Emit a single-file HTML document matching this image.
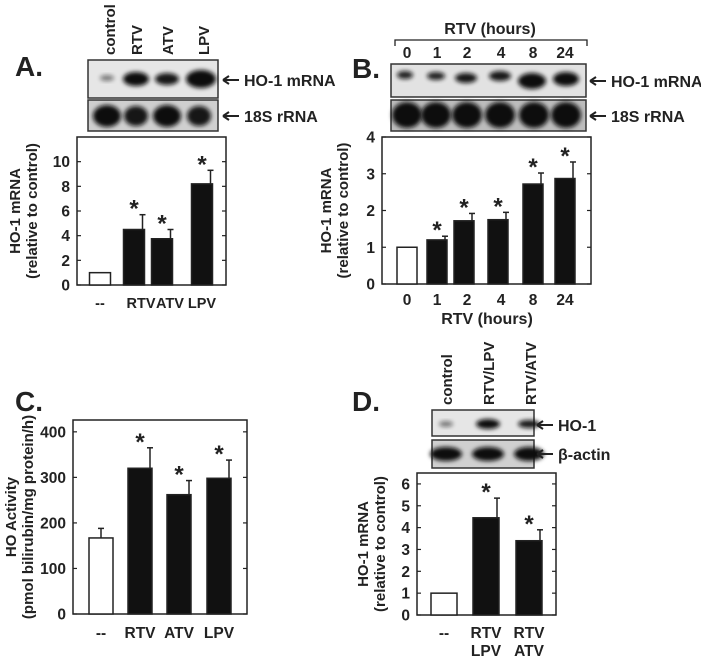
<!DOCTYPE html>
<html><head><meta charset="utf-8">
<style>
html,body{margin:0;padding:0;background:#fff;}
svg{display:block;font-family:"Liberation Sans",Arial,sans-serif;font-weight:bold;}
</style></head>
<body>
<svg id="fig" width="701" height="659" viewBox="0 0 701 659" xmlns="http://www.w3.org/2000/svg">
<defs>
<filter id="blur2" x="-50%" y="-50%" width="200%" height="200%"><feGaussianBlur stdDeviation="2"/></filter>
</defs>
</svg>
<script>
// ---- Panel A data ----
const aCategories = ["--","RTV","ATV","LPV"];
const aValues = [1, 4.5, 3.75, 8.2];
const aErrors = [0, 1.2, 0.75, 1.1];
const aTicks = [0,2,4,6,8,10];
// ---- Panel B data ----
const bCategories = ["0","1","2","4","8","24"];
const bValues = [1, 1.2, 1.72, 1.75, 2.72, 2.87];
const bErrors = [0, 0.1, 0.2, 0.2, 0.3, 0.45];
const bTicks = [0,1,2,3,4];
// ---- Panel C data ----
const cCategories = ["--","RTV","ATV","LPV"];
const cValues = [167, 320, 262, 298];
const cErrors = [21, 45, 31, 40];
const cTicks = [0,100,200,300,400];
// ---- Panel D data ----
const dCategories = [["--"],["RTV","LPV"],["RTV","ATV"]];
const dValues = [1, 4.45, 3.4];
const dErrors = [0, 0.9, 0.5];
const dTicks = [0,1,2,3,4,5,6];

const NS="http://www.w3.org/2000/svg";
const svg=document.getElementById('fig');
function mk(tag,attrs,parent,text){
  const e=document.createElementNS(NS,tag);
  for(const k in attrs) e.setAttribute(k,attrs[k]);
  if(text!==undefined) e.textContent=text;
  (parent||svg).appendChild(e);
  return e;
}

function chart(name,box,yMax,cats,vals,errs,ticks,barW,barXs,labXs,labY,ylab,ylabX,labSize){
  const g=mk('g',{});
  
  
  const y=v=>box.y1-(v/yMax)*(box.y1-box.y0);
  const fr=mk('rect',{x:box.x0,y:box.y0,width:box.x1-box.x0,height:box.y1-box.y0,fill:'none',stroke:'#222','stroke-width':1.5},g);
  
  
  ticks.forEach(t=>{
    const ty=y(t);
    mk('line',{x1:box.x0,x2:box.x0+4,y1:ty,y2:ty,stroke:'#222','stroke-width':1.2},g);
    mk('line',{x1:box.x1-4,x2:box.x1,y1:ty,y2:ty,stroke:'#222','stroke-width':1.2},g);
    const tl=mk('text',{x:box.x0-7,y:ty+5.5,'text-anchor':'end','font-size':15.5,fill:'#222'},g,String(t));
    
    
  });
  vals.forEach((v,i)=>{
    const cx=barXs[i];
    const top=y(v);
    const b=mk('rect',{x:cx-barW/2,y:top,width:barW,height:box.y1-top,fill:i===0?'#fff':'#111',stroke:'#222','stroke-width':1.5},g);
    
    
    if(errs[i]>0){
      const et=y(v+errs[i]);
      const ex=i===0?cx:cx+barW/2-2;
      mk('line',{x1:ex,x2:ex,y1:top,y2:et,stroke:'#222','stroke-width':1.5},g);
      mk('line',{x1:ex-3,x2:ex+3,y1:et,y2:et,stroke:'#222','stroke-width':1.5},g);
      if(i>0){
        const s=mk('text',{x:cx,y:et+2,'text-anchor':'middle','font-size':24,fill:'#222'},g,'*');
        
        
      }
    }
    const lines=Array.isArray(cats[i])?cats[i]:[cats[i]];
    lines.forEach((ln,j)=>{
      const l=mk('text',{x:labXs[i],y:labY+j*18,'text-anchor':'middle','font-size':labSize||15.5,fill:'#222'},g,ln);
      
      
    });
  });
  const cy=(box.y0+box.y1)/2;
  ylab.forEach((t,j)=>{
    const yl=mk('text',{x:ylabX+j*17,y:cy,'text-anchor':'middle','font-size':15,fill:'#222',transform:`rotate(-90 ${ylabX+j*17} ${cy})`},g,t);
    
    
  });
}

function blot(name,x,y,w,h,bg,bands){
  const g=mk('g',{});
  
  
  mk('rect',{x:x,y:y,width:w,height:h,fill:bg,stroke:'#333','stroke-width':1.5},g);
  bands.forEach(b=>{
    mk('ellipse',{cx:b[0],cy:b[1],rx:b[2],ry:b[3],fill:'#111',opacity:b[4],filter:'url(#blur2)'},g);
  });
}
function label(t,x,y,size,anchor,name,rot){
  const a={x:x,y:y,'font-size':size,fill:'#222','text-anchor':anchor||'start'};
  if(rot) a.transform=`rotate(-90 ${x} ${y})`;
  const e=mk('text',a,svg,t);
  
  
  return e;
}
function arrowLabel(t,x,y,name){
  const g=mk('g',{});
  
  
  mk('line',{x1:x+1,x2:x+16,y1:y,y2:y,stroke:'#222','stroke-width':2},g);
  mk('path',{d:`M${x} ${y} L${x+6} ${y-4} M${x} ${y} L${x+6} ${y+4}`,stroke:'#222','stroke-width':2,fill:'none'},g);
  mk('text',{x:x+21,y:y+6,'font-size':16,fill:'#222'},g,t);
}

// Panel letters
label('A.',15,76,28,'start','panel-label-a');
label('B.',352,78,28,'start','panel-label-b');
label('C.',15,411,28,'start','panel-label-c');
label('D.',352,411,28,'start','panel-label-d');

// Panel A blots
['control','RTV','ATV','LPV'].forEach((t,i)=>label(t,[109,136,167,203][i]+6,55,15,'start','lane-label',true));
blot('blot-a-ho1',88,60,130,38,'#e6e6e6',[[107,78,7,3,0.5],[136,79,13,7,1],[167,79,12,6,0.95],[201,79,15,9,1]]);
blot('blot-a-18s',88,100,130,31,'#cfcfcf',[[107,116,14,11,1],[136,116,12,10,0.95],[167,116,14,11,1],[199,116,12,10,0.95]]);
arrowLabel('HO-1 mRNA',223,80,'ho1-band-label');
arrowLabel('18S rRNA',223,116,'18s-band-label');

// Panel B blots
label('RTV (hours)',490,34,16,'middle','blot-time-title');
mk('path',{d:'M395 46 V40 H587 V46',fill:'none',stroke:'#222','stroke-width':1.3});
['0','1','2','4','8','24'].forEach((t,i)=>label(t,[407,437,467,501,533,565][i],58,15.5,'middle','lane-label'));
blot('blot-b-ho1',391,64,195,33,'#e2e2e2',[[405,75,8,4,0.9],[436,76,9,4,0.9],[466,78,11,5,0.95],[500,76,11,5,0.95],[532,81,14,8,1],[566,79,13,7,1]]);
blot('blot-b-18s',391,100,195,31,'#bdbdbd',[[407,115,15,13,1],[436,115,15,13,1],[467,115,15,13,1],[500,115,15,13,1],[534,115,15,13,1],[566,115,15,13,1]]);
arrowLabel('HO-1 mRNA',590,81,'ho1-band-label');
arrowLabel('18S rRNA',590,116,'18s-band-label');

// Panel D blots
['control','RTV/LPV','RTV/ATV'].forEach((t,i)=>label(t,[446,488,530][i]+6,405,15,'start','lane-label',true));
blot('blot-d-ho1',432,410,102,26,'#e6e6e6',[[446,424,7,3,0.5],[488,424,12,5,1],[529,424,11,4,0.95]]);
blot('blot-d-actin',432,440,102,28,'#d0d0d0',[[446,454,16,7,1],[488,454,16,7,1],[529,454,15,7,1]]);
arrowLabel('HO-1',537,425,'ho1-band-label');
arrowLabel('β-actin',537,454,'actin-band-label');

chart('chart-a',{x0:77,x1:226,y0:137,y1:285},12,aCategories,aValues,aErrors,aTicks,21,[100,134,162,202],[100,141,170,202],308,['HO-1 mRNA','(relative to control)'],20,14.5);
chart('chart-b',{x0:382,x1:591,y0:137,y1:284},4,bCategories,bValues,bErrors,bTicks,20,[407,437,464,498,533,565],[407,437,467,501,533,565],305,['HO-1 mRNA','(relative to control)'],331);
label('RTV (hours)',487,324,16,'middle','x-axis-title');
chart('chart-c',{x0:73,x1:247,y0:420,y1:614},426,cCategories,cValues,cErrors,cTicks,24,[101,140,179,219],[101,140,179,219],638,['HO Activity','(pmol bilirubin/mg protein/h)'],16);
chart('chart-d',{x0:417,x1:556,y0:473,y1:615},6.5,dCategories,dValues,dErrors,dTicks,26,[444,486,529],[444,486,529],638,['HO-1 mRNA','(relative to control)'],368);
</script>
</body></html>
